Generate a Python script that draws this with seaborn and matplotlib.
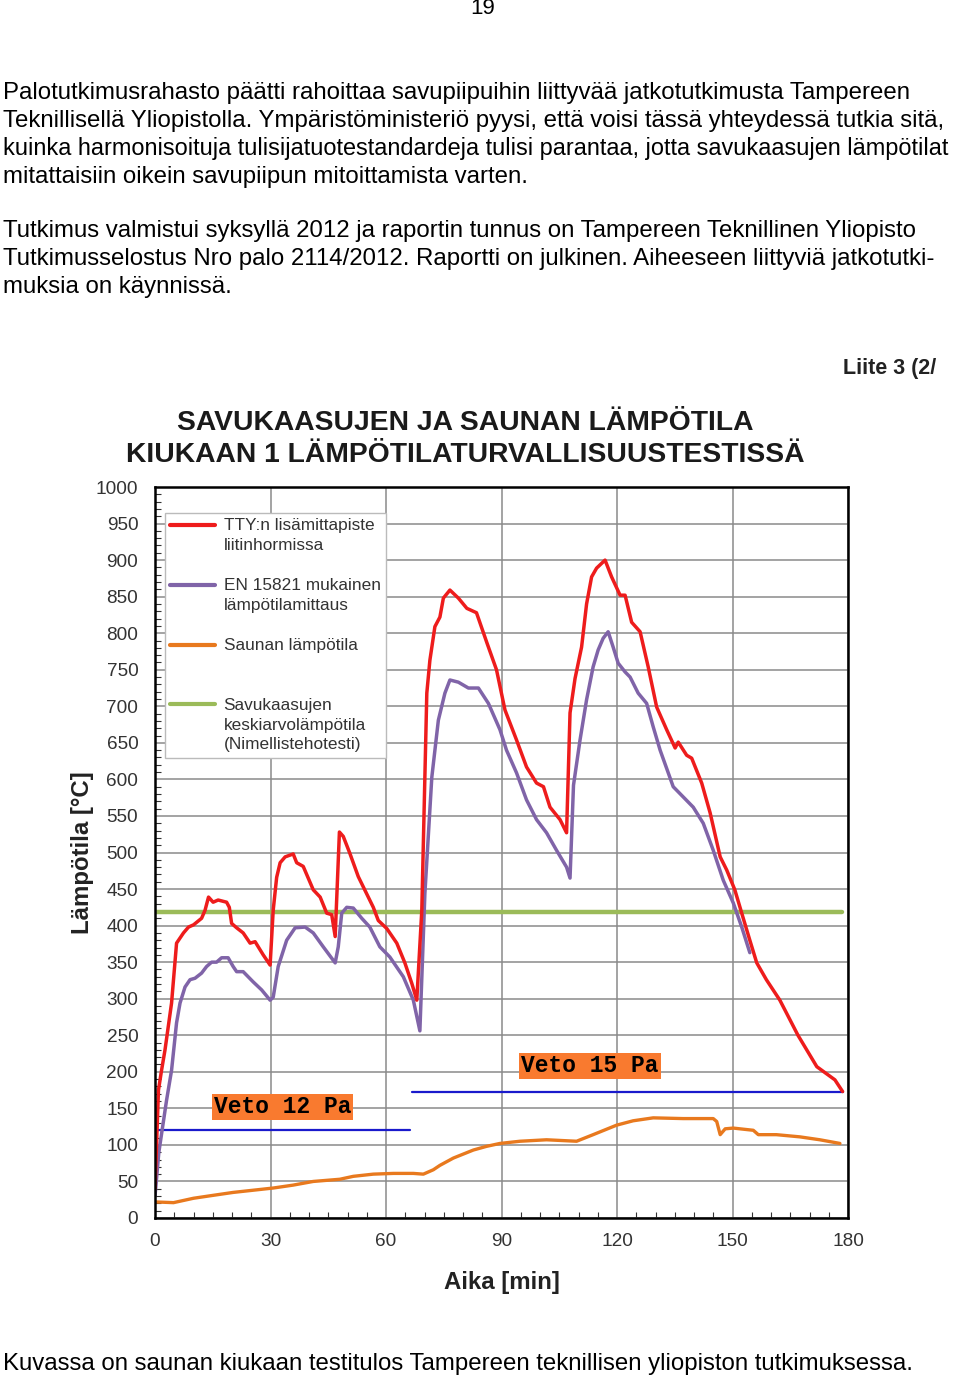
import matplotlib
matplotlib.use("Agg")
import numpy as np
import matplotlib.pyplot as plt
from matplotlib.lines import Line2D
from matplotlib.legend_handler import HandlerLine2D
from matplotlib.ticker import MultipleLocator
from matplotlib.transforms import Bbox
import seaborn as sns
import pandas as pd

# ---------------- data ----------------
red_t = [0, 0.9, 1.7, 2.6, 4.3, 5.6, 7.4, 8.7, 10, 12.1,
         13, 13.9, 15.1, 16.4, 18.6, 19.3, 19.9, 21.2, 22.9, 24.7,
         26, 28.1, 29.9, 30.7, 31.6, 32.5, 33.8, 35.9, 36.8, 38.5,
         41.1, 42.9, 44.6, 45.9, 46.8, 47.9, 48.9, 50.6, 52.8, 55.4,
         56.7, 58, 60.2, 62.8, 64.9, 66.7, 68, 69.3, 70.6, 71.4,
         72.7, 74, 74.9, 76.6, 78.8, 81, 83.5, 86.2, 88.7, 90.9,
         93.9, 96.5, 99.1, 100.9, 102.6, 105.2, 106.9, 107.8, 109.1, 110.8,
         112.1, 113.4, 114.7, 116.9, 118.6, 120.8, 122.1, 123.8, 126, 128.1,
         130.3, 132.9, 135.1, 135.9, 138.1, 139.4, 142, 144.2, 146.8, 148.5,
         150.6, 152.4, 154.5, 156.3, 158.8, 162.3, 167, 171.9, 176.6, 178.6]
red_v = [40, 175, 202, 230, 294, 376, 390, 398, 401, 410,
         421, 439, 432, 435, 432, 425, 403, 397, 390, 376,
         378, 360, 346, 421, 466, 486, 494, 498, 486, 481,
         449, 439, 417, 415, 385, 528, 522, 499, 467, 439,
         425, 407, 396, 376, 349, 321, 298, 421, 718, 763,
         809, 822, 848, 859, 848, 834, 828, 787, 750, 695,
         654, 617, 595, 590, 562, 545, 527, 691, 738, 781,
         840, 877, 889, 900, 877, 852, 852, 815, 802, 754,
         699, 668, 643, 651, 633, 629, 595, 554, 494, 476,
         449, 417, 380, 349, 326, 298, 250, 207, 189, 173]

purple_t = [0, 1, 3, 4.3, 5.6, 6.5, 7.8, 9.1, 10.4, 12.1,
            13.4, 14.7, 16, 17.3, 19, 20.3, 21.2, 22.9, 25.5, 27.7,
            29.9, 30.7, 32, 34.2, 36.4, 39, 41.1, 43.7, 46.8, 47.6,
            48.5, 49.8, 51.5, 53.7, 55.8, 58.4, 61, 64.5, 67.1, 68.8,
            70.1, 71.9, 73.6, 75.3, 76.6, 78.8, 81.4, 84, 86.6, 89.6,
            91.3, 93.9, 96.5, 99.1, 101.7, 104.3, 106.9, 107.8, 108.7, 110.4,
            112.1, 113.8, 115.1, 116.4, 117.7, 119, 120.3, 122.1, 123.4, 125.5,
            127.7, 129.4, 131.2, 134.6, 137.2, 139.8, 142.4, 145, 147.6, 150.2,
            152.4, 154.5]
purple_v = [30, 90, 161, 202, 267, 294, 316, 326, 328, 335,
            344, 350, 350, 356, 356, 344, 337, 337, 323, 312,
            298, 302, 344, 380, 397, 398, 390, 371, 349, 371,
            417, 425, 424, 410, 398, 371, 357, 330, 298, 256,
            444, 603, 681, 718, 736, 733, 725, 725, 704, 668,
            640, 609, 572, 545, 527, 503, 480, 465, 592, 654,
            709, 754, 777, 793, 802, 781, 759, 747, 740, 718,
            704, 672, 640, 590, 576, 562, 540, 503, 462, 431,
            398, 363]

orange_t = [0, 4.8, 10, 15.1, 20.3, 25.5, 30.7, 35.9, 41.1, 48,
            51.5, 56.7, 61.9, 67.1, 69.7, 72.3, 74, 77.5, 82.7, 86.1,
            89.6, 94.8, 101.7, 109.5, 113.8, 119.9, 124.2, 129.4, 137.2, 145,
            145.9, 146.8, 148.1, 150.2, 155.4, 156.7, 161.4, 167.5, 172.7, 177.9]
orange_v = [22, 21, 27, 31, 35, 38, 41, 45, 50, 53,
            57, 60, 61, 61, 60, 66, 72, 82, 93, 98,
            102, 105, 107, 105, 114, 127, 133, 137, 136, 136,
            132, 114, 122, 123, 120, 114, 114, 111, 107, 102]

green_t = [0, 178.4]
green_v = [419, 419]

veto12_t = [0, 66.3]
veto12_v = [120, 120]
veto15_t = [66.7, 178.8]
veto15_v = [172, 172]

labels = ["TTY:n lisämittapiste\nliitinhormissa",
          "EN 15821 mukainen\nlämpötilamittaus",
          "Saunan lämpötila\n ",
          "Savukaasujen\nkeskiarvolämpötila\n(Nimellistehotesti)"]
veto_labels = ["Veto 12 Pa", "Veto 15 Pa"]
veto_label_pos = [(33.2, 152), (113, 208)]

x_ticks = [0, 30, 60, 90, 120, 150, 180]
y_ticks = list(range(0, 1001, 50))

title = "SAVUKAASUJEN JA SAUNAN LÄMPÖTILA\nKIUKAAN 1 LÄMPÖTILATURVALLISUUSTESTISSÄ"
xlabel = "Aika [min]"
ylabel = "Lämpötila [°C]"

page_top = ["Palotutkimusrahasto päätti rahoittaa savupiipuihin liittyvää jatkotutkimusta Tampereen",
            "Teknillisellä Yliopistolla. Ympäristöministeriö pyysi, että voisi tässä yhteydessä tutkia sitä,",
            "kuinka harmonisoituja tulisijatuotestandardeja tulisi parantaa, jotta savukaasujen lämpötilat",
            "mitattaisiin oikein savupiipun mitoittamista varten.",
            "Tutkimus valmistui syksyllä 2012 ja raportin tunnus on Tampereen Teknillinen Yliopisto",
            "Tutkimusselostus Nro palo 2114/2012. Raportti on julkinen. Aiheeseen liittyviä jatkotutki-",
            "muksia on käynnissä."]
page_bottom = "Kuvassa on saunan kiukaan testitulos Tampereen teknillisen yliopiston tutkimuksessa."
page_number = "19"
appendix = "Liite 3 (2/5)"

# ---------------- style ----------------
sns.set_style("white")
plt.rcParams["font.family"] = ["Liberation Sans", "DejaVu Sans"]

W, H = 960, 1381
fig = plt.figure(figsize=(W / 100, H / 100), dpi=100)
fig.patch.set_facecolor("white")


def fx(px):
    return px / W


def fy(py):
    return 1 - py / H


ax = fig.add_axes([fx(155), fy(1218), 693 / W, 731 / H])

c_red = "#EE1C1C"
c_purple = "#8064A8"
c_orange = "#E8791E"
c_green = "#9BBB59"
c_blue = "#1A1ACC"

df_red = pd.DataFrame({"t": red_t, "v": red_v})
df_purple = pd.DataFrame({"t": purple_t, "v": purple_v})
df_orange = pd.DataFrame({"t": orange_t, "v": orange_v})
df_green = pd.DataFrame({"t": green_t, "v": green_v})
df_v12 = pd.DataFrame({"t": veto12_t, "v": veto12_v})
df_v15 = pd.DataFrame({"t": veto15_t, "v": veto15_v})

kw = dict(x="t", y="v", ax=ax, estimator=None, sort=False, legend=False)
sns.lineplot(data=df_v12, color=c_blue, linewidth=1.6, **kw)
sns.lineplot(data=df_v15, color=c_blue, linewidth=1.6, **kw)
sns.lineplot(data=df_orange, color=c_orange, linewidth=2.4, **kw)
sns.lineplot(data=df_green, color=c_green, linewidth=3.2, **kw)
sns.lineplot(data=df_purple, color=c_purple, linewidth=2.5, **kw)
sns.lineplot(data=df_red, color=c_red, linewidth=2.5, **kw)

ax.set_xlim(0, 180)
ax.set_ylim(0, 1000)
ax.set_xticks(x_ticks)
ax.set_yticks(y_ticks)
ax.xaxis.set_minor_locator(MultipleLocator(5))
ax.yaxis.set_minor_locator(MultipleLocator(10))
ax.grid(True, which="major", color="#8a8a8a", linewidth=1.1)
ax.set_axisbelow(True)
for s in ax.spines.values():
    s.set_visible(True)
    s.set_color("black")
    s.set_linewidth(1.8)
ax.tick_params(axis="both", which="major", direction="out", length=4, width=1.2,
               labelsize=13.7, labelcolor="#333333", color="black")
ax.tick_params(axis="y", which="major", pad=8)
ax.tick_params(axis="x", which="major", pad=7)
ax.tick_params(axis="both", which="minor", direction="in", length=4, width=0.8,
               color="#333333", left=True, bottom=True)
ax.set_xlabel(xlabel, fontsize=17.3, fontweight="bold", color="#222222", labelpad=15)
ax.set_ylabel(ylabel, fontsize=17.3, fontweight="bold", color="#222222", labelpad=1.5)

for (tx, ty), lab in zip(veto_label_pos, veto_labels):
    ax.text(tx, ty, lab, fontsize=16.5, fontweight="bold", family=["Liberation Mono", "DejaVu Sans Mono"],
            ha="center", va="center", color="black",
            bbox=dict(boxstyle="square,pad=0.08", facecolor="#F97A2F", edgecolor="none"))

LEG_LS = 1.38


class TopAlignedHandler(HandlerLine2D):
    """Legend handle drawn level with the first line of a multi-line label."""

    def __init__(self, nlines, **kwargs):
        super().__init__(**kwargs)
        self.nlines = nlines

    def create_artists(self, legend, orig_handle, xdescent, ydescent, width, height, fontsize, trans):
        artists = super().create_artists(legend, orig_handle, xdescent, ydescent, width, height,
                                         fontsize, trans)
        shift = (self.nlines - 1) / 2 * fontsize * 0.89 * LEG_LS
        for a in artists:
            if isinstance(a, Line2D):
                a.set_ydata(np.asarray(a.get_ydata(), dtype=float) + shift)
        return artists


handles = [Line2D([0], [0], color=c, linewidth=3) for c in (c_red, c_purple, c_orange, c_green)]
hmap = {h: TopAlignedHandler(lab.count("\n") + 1) for h, lab in zip(handles, labels)}
leg = ax.legend(handles, labels, handler_map=hmap, loc="upper left", bbox_to_anchor=(0.0144, 0.9644),
                borderaxespad=0, frameon=True, fancybox=False, framealpha=1, edgecolor="#bbbbbb",
                fontsize=12.4, labelcolor="#333333", handlelength=2.6, handletextpad=0.5,
                labelspacing=1.48, borderpad=0.3)
for t in leg.get_texts():
    t.set_linespacing(LEG_LS)
leg.get_frame().set_linewidth(1.0)

fig.text(fx(465), fy(439), title, ha="center", va="center", fontsize=20.3, fontweight="bold",
         color="#1a1a1a", linespacing=1.3)

app = fig.text(fx(843), fy(369), appendix, ha="left", va="center", fontsize=15.5, fontweight="bold",
               color="#222222")
app.set_clip_box(Bbox.from_extents(0, 0, 936, H))
app.set_clip_on(True)

fig.text(fx(483), fy(9), page_number, ha="center", va="center", fontsize=16, color="black")
ys = [93, 121, 149, 177, 231, 259, 287]
for i, (line, y) in enumerate(zip(page_top, ys)):
    fs = 16.9 if i == 2 else 17.3
    fig.text(fx(3), fy(y), line, ha="left", va="center", fontsize=fs, color="black")
fig.text(fx(3), fy(1364), page_bottom, ha="left", va="center", fontsize=17.3, color="black")

fig.savefig("out.png", dpi=100, facecolor="white")
